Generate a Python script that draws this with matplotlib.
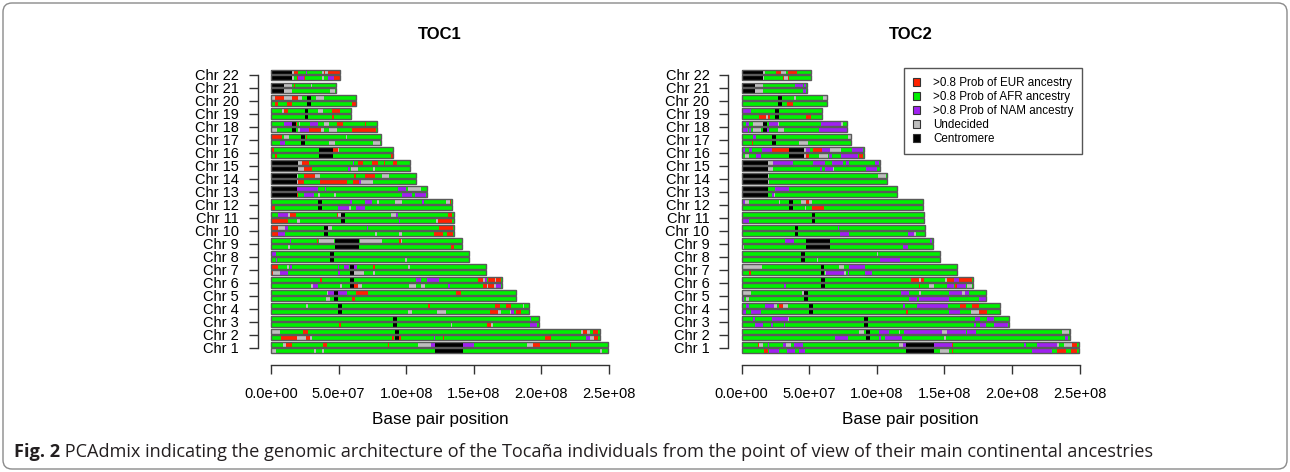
import matplotlib
matplotlib.use("Agg")
import matplotlib.pyplot as plt
from matplotlib.patches import Patch, FancyBboxPatch
from matplotlib.transforms import IdentityTransform

plt.rcParams["font.family"] = ["Liberation Sans", "DejaVu Sans"]

# chromosome layout (Mb)
chroms = list(range(1, 23))
chr_labels = ["Chr %d" % c for c in chroms]
chr_len = [249.2, 243.2, 198.0, 191.2, 180.9, 171.1, 159.1, 146.4, 141.2, 135.5, 135.0,
           133.9, 115.2, 107.3, 102.5, 90.4, 81.2, 78.1, 59.1, 63.0, 48.1, 51.3]
cen_start = [121.2, 92.0, 90.6, 49.8, 46.3, 58.6, 58.4, 43.8, 47.3, 39.2, 51.7,
             34.7, 0, 0, 0, 35.2, 22.2, 15.5, 24.9, 26.6, 0, 0]
cen_end = [142.1, 95.0, 93.1, 52.5, 49.3, 61.3, 61.1, 46.6, 65.0, 41.9, 54.4,
           37.7, 19.2, 19.2, 19.7, 46.1, 25.1, 18.5, 27.6, 29.6, 9.6, 15.8]

# non-AFR segments per haplotype, chr1..chr22 (E=EUR, N=NAM, U=undecided), Mb
toc1_hap1 = [
    "U 8.6-11.1, E 11.1-15.8, E 38.7-41.6, E 86.2-87.2, U 108.9-118.2, N 118.2-121.2, N 142.1-150.2, U 189.7-193.8, E 193.8-198.8, E 220.9-222.2",
    "U 1-6.7, E 23.4-27.1, U 229.6-231, E 231-234, U 234-235.7, E 238.2-241.9",
    "N 191.4-192.1",
    "U 25.9-27.1, E 115.8-117.7, E 165.5-169.7, E 173.6-177.3, U 186.5-187.5",
    "U 41.1-42.4, N 42.4-46.3, N 49.3-56.2, E 62.6-71.9, E 137.2-140.9",
    "E 36.2-37.9, N 106.9-110.8, N 115.3-124.1, E 153.2-156.9, U 156.9-158.1, N 158.1-160.1, E 160.6-165.5, U 165.5-166.7, E 166.7-170.4",
    "E 0-4.9, U 11.8-13.3, N 14.3-15.3, N 49.3-50.2, N 54.2-57.6, N 61.1-63.5, E 75.6-76.8, U 101.5-102.5",
    "N 0-3.4",
    "N 14-14.8, E 33.7-34.5, U 35.5-46.8, U 65.8-81.8, E 94.6-95.8, U 95.8-96.8",
    "E 0-4.9, U 4.9-10.3, N 10.3-12.8, U 41.9-44.8, N 70.7-71.9, E 124.1-134.7",
    "E 0-1, N 5.4-12.3, U 12.3-13.8, E 13.8-18.5, E 48.5-49.8, U 49.8-51.7, U 88.7-92.4, N 92.4-94.1, E 131-134.2",
    "N 58.4-60.1, N 69.5-74.9, U 78.3-79.8, U 91.6-96.6, N 111.8-112.8, U 129.8-132.3, E 132.3-133.5",
    "N 19.2-35, N 39.9-40.9, N 94.1-99.6, U 101-111.3",
    "U 19.2-20.2, E 24.4-32.5, U 32.5-36.2, E 61.6-62.6, E 69.5-76.8, U 82.3-87.2",
    "U 19.7-22.7, E 22.7-28.3, N 60.3-61.6, E 64-68.2, E 74.9-79.3, E 83.3-84.3, E 90.6-92.9",
    "E 0.5-2.5, E 46.1-49.3, U 49.3-50.3",
    "E 0-8.4, U 9.9-13.3, E 25.6-26.6, U 55.3-56.4",
    "N 0-1, N 9.9-15.3, E 18.5-19.5, U 20.5-21.5, N 29-35, U 39.4-42.9, E 48.8-53.2, E 69.5-70.4",
    "E 0-1, U 8.4-9.6, E 9.6-12.3, U 35-38.7, E 44.8-51",
    "U 0.5-3, E 3-9.4, U 9.4-15.8, E 15.8-19.7, U 19.7-23.2, U 33-39.4",
    "U 9.6-15.8, E 17.2-17.7, U 29.6-30.5",
    "U 15.8-17, E 17.2-19.7, N 25.9-26.6, U 37.4-38.9, E 38.9-39.9, U 39.9-41.9, E 41.9-50.8",
]
toc1_hap2 = [
    "U 0-3.7, U 32-33, U 37.4-38.9, U 243.5-245",
    "E 7.4-19.5, U 19.5-25.6, E 25.6-28.6, U 28.6-30.5, E 89.2-91.1, E 95-95.8, N 120.4-121.4, E 127.3-128.1, E 202.5-207.4, N 233.2-235.7, U 235.7-238.7, E 238.7-241.9",
    "E 50.5-51.5, U 132.8-134, E 159.4-162.6, U 162.6-164, N 191.4-197",
    "U 101.5-104.4, U 122.7-129.1, E 161.8-168, U 168-170, U 177-177.8, N 177.8-179.8, E 181.5-185.2",
    "U 40.6-43.6, E 60.1-62.1",
    "U 29.6-31.3, N 31.3-35, U 51.2-52.7, E 61.6-64, U 64-67, U 102-106.9, U 110.8-113.8, N 131-132.3, E 156.9-159.4, U 159.4-160.6, E 160.6-165, U 165-166.7, N 166.7-170.4",
    "E 0-1.5, U 1.5-6.7, N 6.7-12.8, N 49.3-51, U 61.3-69, U 75.6-76.8",
    "N 3.4-4.4, U 99-100.5",
    "U 12.8-13.8, E 133-135.5",
    "E 0-4.9, N 5.4-10.3, U 76.8-78.3, U 94.6-97, E 120.4-127.3, E 130.5-134.7",
    "E 0-12.8, U 19-21.4, N 94.8-95.6, U 122.4-123.6, E 123.6-134.2",
    "E 0-3, N 49.3-57.6, U 57.6-59.1, N 62.6-69.5",
    "E 19.2-20.2, N 24.1-32, U 35-36.2, U 46.8-47.8, N 97.1-104, N 106.4-114.8",
    "U 19.2-20.2, E 20.2-24.4, E 36.2-55.9, E 60.8-65.3, N 65.3-66.3, U 66.3-75.6",
    "U 19.7-24.1, E 24.1-30, N 57.1-58.6, U 59.1-64, U 75.6-76.8",
    "E 3-4.4, E 88.4-89.9",
    "N 6.7-10.3, E 13.8-14.3, U 43.1-47.3, E 60.3-60.8, U 75.6-80.5",
    "U 0.5-4.2, U 20.2-21.7, N 21.7-28.1, E 28.1-36.9, U 36.9-39.4, U 42.9-48.5, E 60.1-77.3",
    "U 0-1, E 44.8-46.8",
    "E 3-4.9, E 11.8-15.8, E 59.6-62.6",
    "U 9.6-15.3, U 43.8-47.5",
    "U 15.8-16.7, E 19.2-20.2, N 20.2-24.6, E 24.6-25.4, U 37.4-39.4, N 41.9-46.3, E 46.3-50.8",
]
toc2_hap1 = [
    "E 11.8-12.6, U 12.6-16, N 19.2-20.4, N 30.3-32.8, U 32.8-36.5, N 38.9-45, U 116.5-119, N 119-121.2, N 142.1-155.4, E 155.4-156.4, N 209-210, N 218.2-233.5, U 233.5-234.7, U 238.4-244.6, E 244.6-248.3",
    "U 86.9-90.1, N 101.2-108.6, U 116-117.2, N 120.2-148.5, U 148.5-151.7, N 151.7-165.8, N 167-173.6, U 236.7-242.1",
    "N 8.6-10, N 22.4-34, U 34-35.2, N 172.7-176.4, N 181.8-186.7",
    "N 3.2-5.2, N 17.5-24.1, U 24.1-25.8, E 27.3-30.8, U 30.8-34, N 119-121, N 129.3-152.7, E 161.3-165.8, E 170-175.6",
    "U 0.7-6.9, U 44.5-46.3, N 117.7-123.9, U 131-132.3, N 153.4-163.3, U 163.3-165.3, N 165.3-168.2",
    "E 125.1-130.8, U 130.8-132.5, E 132.5-135, U 150.2-151.7, E 151.7-157.1, N 157.1-160.8, E 160.8-170.7",
    "U 0.7-14.8, U 72.2-75.9, N 79.1-91.4",
    "U 99.8-101",
    "N 32.3-38.9, N 139.4-141",
    "N 70.9-72.2",
    "",
    "N 0.7-2.7, U 2.7-5.7, U 27.5-28.5, U 43.8-47.5, E 47.5-49.5, U 49.5-52",
    "N 24.9-35.2",
    "U 19.2-20.2, U 100.5-106.7",
    "U 19.7-22.9, N 22.9-37.7, N 52.5-61.8, N 66.7-75.1, N 77.1-79.1, N 98.5-101.2",
    "N 0-2.7, N 5.7-7.7, N 15-22.2, E 22.2-35.2, U 46.1-47.5, N 47.5-50.5, E 52.5-59.4, N 59.4-65.3, U 65.3-73.4, N 81.5-89.9",
    "N 8.6-10.6, U 78.3-80.8",
    "N 0-1, N 3.2-5.2, U 8.6-15.5, N 20.4-26.6, U 26.6-27.8, N 58.6-73.4, U 73.4-74.6",
    "E 0-0.7, N 0.7-6.9",
    "U 38.9-40.1, U 60.3-62.8",
    "U 9.3-15.5, N 39.6-45, N 46.3-47.5",
    "U 15.8-17, E 25.6-29.3, U 29.3-33, E 34.5-41.1",
]
toc2_hap2 = [
    "E 16.5-19.7, N 20.4-27.8, N 33.5-39.7, N 42.6-47, U 146.6-153.4, E 155.4-156.4, N 214.5-229.8, E 233.5-239.7, E 243.3-248.3",
    "N 69-78.8, N 101.2-102.9, N 105.9-118.2, U 149.7-151.2, N 239.2-241.6",
    "N 9.9-15.5, N 21.7-22.9, N 31.5-32.2, N 172-173.2, N 176.4-181, N 186.7-197.3",
    "N 0-3.2, N 6.9-14.3, E 121.4-122.7, N 153.4-161.3, U 169.5-175.6, E 175.6-181.8",
    "N 0.7-2, U 3.2-5.7, N 123.4-130, N 131.3-153.4, N 175.6-180.5",
    "N 31.5-32.8, E 131-132, U 138.7-142.4, N 152.2-157.1, E 157.6-159.6, N 159.6-165.8, U 167-170.7",
    "E 5.7-6.7, U 61.3-62.3, N 62.3-75.9, U 75.9-77.1, N 78.3-79.5, N 91.4-96.3",
    "U 55.7-56.7, N 102.2-117",
    "U 0.7-1.7, N 119-122.7",
    "N 72.7-79.1, N 122.7-127.6, U 127.6-128.8",
    "N 0.7-5.7",
    "U 46.5-47.5, E 52-60.6",
    "N 22.4-23.6, U 23.6-24.9",
    "U 19.2-20.2",
    "U 19.7-22.9, N 57.9-59.4, N 61.8-67.2, U 67.2-68.2, N 91.9-99.8",
    "U 2.7-5.2, N 10.6-14.3, U 46.1-47.5, E 47.5-49.5, U 57.4-63.5, N 64.5-66.7, N 73.4-85.7, E 86.5-89.9",
    "E 7.6-8.6, U 42.6-48.8",
    "N 0-4.4, N 5.7-7.2, U 8.6-14.3, N 18.5-20.4, U 26.6-31.5, N 57.4-78",
    "E 12.6-18, U 18-19.5, E 19.5-20.9, E 47.5-51.2",
    "E 33.3-38.2",
    "U 9.3-15.5, N 45-47.5",
    "U 15.8-16.7, E 30.3-31, U 31-34, E 34-34.8",
]

x_ticks = [0, 5e7, 1e8, 1.5e8, 2e8, 2.5e8]
legend_labels = [">0.8 Prob of EUR ancestry", ">0.8 Prob of AFR ancestry",
                 ">0.8 Prob of NAM ancestry", "Undecided", "Centromere"]
COL = {"E": "#ff2200", "A": "#00f000", "N": "#a020f0", "U": "#bebebe", "C": "#000000"}
caption_bold = "Fig. 2"
caption_rest = (" PCAdmix indicating the genomic architecture of the Tocaña individuals "
                "from the point of view of their main continental ancestries")

BAR_H = 0.38
OFF = 0.23


def parse(s):
    out = []
    for item in s.split(","):
        item = item.strip()
        if not item:
            continue
        code, rng = item.split()
        a, b = rng.split("-")
        out.append((code, float(a) * 1e6, float(b) * 1e6))
    return out


def draw_panel(ax, title, hap1, hap2):
    for i, c in enumerate(chroms):
        L = chr_len[i] * 1e6
        for segs, off in ((hap1[i], OFF), (hap2[i], -OFF)):
            yy = c + off
            ax.barh(yy, L, left=0, height=BAR_H, color=COL["A"], linewidth=0)
            for code, a, b in parse(segs):
                ax.barh(yy, b - a, left=a, height=BAR_H, color=COL[code], linewidth=0)
            ax.barh(yy, (cen_end[i] - cen_start[i]) * 1e6, left=cen_start[i] * 1e6,
                    height=BAR_H, color=COL["C"], linewidth=0)
            ax.barh(yy, L, left=0, height=BAR_H, fill=False, edgecolor="#5a5a5a", linewidth=1.0)

    ax.set_xlim(-1e7, 2.6e8)
    ax.set_ylim(-0.33, 23.33)
    for s in ("top", "right"):
        ax.spines[s].set_visible(False)
    ax.spines["left"].set_bounds(1, 22)
    ax.spines["bottom"].set_bounds(0, 2.5e8)
    for s in ("left", "bottom"):
        ax.spines[s].set_color("#333333")
        ax.spines[s].set_linewidth(1.0)
    ax.set_yticks(chroms)
    ax.set_yticklabels(chr_labels)
    ax.set_xticks(x_ticks)
    ax.set_xticklabels(["{:.1e}".format(v) for v in x_ticks])
    ax.tick_params(axis="both", length=6.5, width=1.0, color="#333333", labelsize=10.5)
    ax.tick_params(axis="y", pad=7)
    ax.tick_params(axis="x", pad=9.5)
    ax.set_xlabel("Base pair position", fontsize=12.3, labelpad=7.5)
    ax.set_title(title, fontsize=12, fontweight="bold", pad=13.5)


fig = plt.figure(figsize=(12.9, 4.72), dpi=100)
W, H = 1290, 472
ax1 = fig.add_axes([257.5 / W, (H - 365) / H, 365 / W, (365 - 57.7) / H])
ax2 = fig.add_axes([728.2 / W, (H - 365) / H, 365 / W, (365 - 57.7) / H])
draw_panel(ax1, "TOC1", toc1_hap1, toc1_hap2)
draw_panel(ax2, "TOC2", toc2_hap1, toc2_hap2)

handles = [Patch(facecolor=COL[k], edgecolor="#333333", linewidth=0.8) for k in "EANUC"]
leg = fig.legend(handles, legend_labels, loc="upper left",
                 bbox_to_anchor=(904 / W, 1 - 68 / H), borderaxespad=0,
                 fontsize=8.4, fancybox=False, framealpha=1, edgecolor="#555555",
                 handlelength=0.65, handleheight=0.65, handletextpad=1.1,
                 labelspacing=0.18, borderpad=0.75)
leg.get_frame().set_linewidth(1.0)

# figure frame and caption
frame = FancyBboxPatch((3, 3), 1284, 466, boxstyle="round,pad=0,rounding_size=9",
                       transform=IdentityTransform(), fill=False,
                       edgecolor="#8a8a8a", linewidth=1.0)
fig.add_artist(frame)

cy = 1 - 452 / H
t1 = fig.text(14 / W, cy, caption_bold, family=["Open Sans", "DejaVu Sans"],
              fontweight="bold", fontsize=12, va="center", color="#231f20")
t2 = fig.text(0, cy, caption_rest, family=["Open Sans", "DejaVu Sans"],
              fontsize=12, va="center", color="#231f20")
r = fig.canvas.get_renderer()
w1 = t1.get_window_extent(r).width
w2 = t2.get_window_extent(r).width
scale = (1146 - 14) / (w1 + w2)
t1.set_fontsize(12 * scale)
t2.set_fontsize(12 * scale)
w1 = t1.get_window_extent(r).width
t2.set_x((14 + w1) / W)

fig.savefig("out.png", dpi=100)
